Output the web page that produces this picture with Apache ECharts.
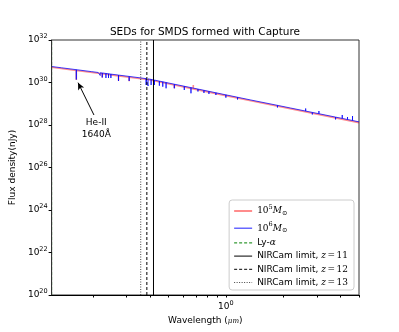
<!DOCTYPE html>
<html>
<head>
<meta charset="utf-8">
<script src="https://cdn.jsdelivr.net/npm/echarts@6/dist/echarts.min.js"></script>
<style>
html, body { margin: 0; padding: 0; background: #fff; }
#chart { width: 399px; height: 332px; }
</style>
</head>
<body>
<div id="chart"></div>
<script>
// continuum nodes + absorption/emission lines (um, nJy)
const hiContWave = [0.1216, 0.1368, 0.1964, 0.395, 1.3519, 5.0];
const hiContFlux = [5.66e30, 4.93e30, 3.26e30, 1.46e30, 1.50e29, 1.40e28];
const hiLineWave = [0.1639, 0.2137, 0.2189, 0.2243, 0.2345, 0.2419, 0.2490, 0.2730, 0.3105,
    0.3812, 0.3905, 0.4049, 0.4213, 0.4474, 0.4662, 0.4852, 0.5362, 0.6047, 0.6556,
    0.7135, 0.7670, 0.8146, 0.8863, 1.0, 1.1514,
    1.8652, 2.1891, 2.6235, 2.8436, 3.0797, 3.7672, 4.0832, 4.3523, 4.6238];
const hiLineCont = [4.01e30, 2.96e30, 2.88e30, 2.80e30, 2.66e30, 2.56e30, 2.48e30, 2.23e30, 1.93e30,
    1.52e30, 1.48e30, 1.40e30, 1.30e30, 1.16e30, 1.08e30, 1.00e30, 8.31e29, 6.65e29, 5.72e29,
    4.90e29, 4.29e29, 3.83e29, 3.28e29, 2.62e29, 2.02e29,
    8.40e28, 6.27e28, 4.52e28, 3.91e28, 3.39e28, 2.35e28, 2.04e28, 1.81e28, 1.63e28];
const hiLineTip = [1.38e30, 2.51e30, 2.13e30, 1.72e30, 1.63e30, 1.63e30, 1.63e30, 1.18e30, 1.18e30,
    7.63e29, 6.84e29, 7.63e29, 7.63e29, 7.07e29, 6.34e29, 5.33e29, 5.33e29, 4.44e29, 3.10e29,
    3.77e29, 3.21e29, 2.88e29, 2.58e29, 1.93e29, 1.58e29,
    6.66e28, 5.08e28, 5.98e28, 3.12e28, 4.56e28, 1.82e28, 2.96e28, 2.38e28, 2.65e28];

const loContWave = [0.1216, 0.395, 1.3519, 5.0];
const loContFlux = [5.2e30, 1.34e30, 1.38e29, 1.29e28];
const loLineWave = [0.1639, 0.2243, 0.2730, 0.3105, 0.5362, 0.6743, 1.0];
const loLineCont = [3.69e30, 2.58e30, 2.05e30, 1.78e30, 7.65e29, 5.0e29, 2.41e29];
const loLineTip = [1.3e30, 1.7e30, 1.2e30, 1.15e30, 5.4e29, 7.6e29, 1.95e29];

const lyaWave = 0.1216;
const nircamWave = [0.4167, 0.3846, 0.3571]; // z = 11, 12, 13
const yTicks = [1e20, 1e22, 1e24, 1e26, 1e28, 1e30, 1e32];
const xMajor = [1];
const xTicks = [0.2, 0.3, 0.4, 0.5, 0.6, 0.7, 0.8, 0.9, 1, 2, 3, 4, 5];

const legendText = {
    'm5': '{n|10}{sup|5}{i|M}{sub|⊙}',
    'm6': '{n|10}{sup|6}{i|M}{sub|⊙}',
    'lya': 'Ly-{i|α}',
    'z11': 'NIRCam limit, {i|z}{eq|=}{n|11}',
    'z12': 'NIRCam limit, {i|z}{eq|=}{n|12}',
    'z13': 'NIRCam limit, {i|z}{eq|=}{n|13}'
};

function buildSed(contWave, contFlux, lineWave, lineCont, lineTip) {
    const groups = [];
    contWave.forEach((w, i) => groups.push([[w, contFlux[i]]]));
    lineWave.forEach((w, i) => groups.push([[w, lineCont[i]], [w, lineTip[i]], [w, lineCont[i]]]));
    groups.sort((a, b) => a[0][0] - b[0][0]);
    return [].concat(...groups);
}

function vline(w) {
    return [[w, yTicks[0]], [w, yTicks[yTicks.length - 1]]];
}

const font = 'DejaVu Sans';
const serif = 'DejaVu Serif';
const richMath = {
    n: { fontFamily: serif, fontSize: 9, color: '#000' },
    eq: { fontFamily: serif, fontSize: 9, color: '#000', padding: [0, 1.5, 0, 1.5] },
    i: { fontFamily: serif, fontStyle: 'italic', fontSize: 9, color: '#000' },
    sup: { fontFamily: serif, fontSize: 6.5, color: '#000', padding: [0, 0, 7, 0] },
    sub: { fontFamily: serif, fontSize: 6.5, color: '#000', padding: [5, 0, 0, 0] }
};

const chart = echarts.init(document.getElementById('chart'));
chart.setOption({
    animation: false,
    title: {
        text: 'SEDs for SMDS formed with Capture',
        left: 200, top: 22, textAlign: 'center',
        textStyle: { fontFamily: font, fontSize: 10.5, fontWeight: 'normal', color: '#000' }
    },
    grid: { left: 50, right: 40, top: 40, bottom: 37, show: true, borderColor: '#333', borderWidth: 1 },
    legend: {
        orient: 'vertical', right: 45, bottom: 42,
        itemWidth: 18, itemHeight: 10, itemGap: 4.2,
        backgroundColor: 'rgba(255,255,255,0.8)', borderColor: '#ccc', borderWidth: 1, borderRadius: 3,
        padding: [4, 6, 3, 4],
        itemStyle: { opacity: 0 },
        formatter: (name) => legendText[name],
        textStyle: {
            fontFamily: font, fontSize: 9, color: '#000',
            rich: richMath
        },
        data: [
            { name: 'm5', lineStyle: { width: 2 } },
            { name: 'm6', lineStyle: { width: 1.2 } },
            { name: 'lya', lineStyle: { width: 1 } },
            { name: 'z11', lineStyle: { width: 1 } },
            { name: 'z12', lineStyle: { width: 1 } },
            { name: 'z13', lineStyle: { width: 1 } }
        ]
    },
    xAxis: {
        type: 'log', logBase: 10, min: 0.1216, max: 5, z: 10,
        name: '{t|Wavelength (}{i|μm}{t|)}', nameLocation: 'middle', nameGap: 20,
        nameTextStyle: {
            rich: {
                t: { fontFamily: font, fontSize: 9, color: '#000' },
                i: { fontFamily: serif, fontStyle: 'italic', fontSize: 7, color: '#000' }
            }
        },
        axisLine: { lineStyle: { color: '#000', width: 1 } },
        axisTick: { customValues: xTicks, length: 2.5, lineStyle: { color: '#000' } },
        axisLabel: {
            customValues: xMajor, margin: 5,
            formatter: (v) => '{b|10}{s|' + Math.round(Math.log10(v)) + '}',
            rich: {
                b: { fontFamily: font, fontSize: 9, color: '#000' },
                s: { fontFamily: font, fontSize: 6.5, color: '#000', padding: [0, 0, 7, 0] }
            }
        },
        splitLine: { show: false },
        minorTick: { show: false }
    },
    yAxis: {
        type: 'log', logBase: 10, min: 1e20, max: 1e32, z: 10,
        name: 'Flux density(nJy)', nameLocation: 'middle', nameGap: 32,
        nameTextStyle: { fontFamily: font, fontSize: 9, color: '#000' },
        axisLine: { lineStyle: { color: '#333', width: 1 } },
        axisTick: { customValues: yTicks, length: 3, lineStyle: { color: '#000' } },
        axisLabel: {
            customValues: yTicks, margin: 4,
            formatter: (v) => '{b|10}{s|' + Math.round(Math.log10(v)) + '}',
            rich: {
                b: { fontFamily: font, fontSize: 9, color: '#000' },
                s: { fontFamily: font, fontSize: 6.5, color: '#000', padding: [0, 0, 7, 0] }
            }
        },
        splitLine: { show: false }
    },
    series: [
        {
            name: 'm5', type: 'line', symbol: 'none', sampling: null,
            lineStyle: { color: 'rgba(255,0,0,0.45)', width: 1.6 },
            itemStyle: { color: 'rgba(255,0,0,0.45)' },
            data: buildSed(loContWave, loContFlux, loLineWave, loLineCont, loLineTip)
        },
        {
            name: 'm6', type: 'line', symbol: 'none',
            lineStyle: { color: 'rgba(0,0,255,0.75)', width: 1 },
            itemStyle: { color: 'rgba(0,0,255,0.75)' },
            data: buildSed(hiContWave, hiContFlux, hiLineWave, hiLineCont, hiLineTip),
            markLine: {
                silent: true, symbol: ['none', 'arrow'], symbolSize: [5, 7],
                label: { show: false },
                lineStyle: { color: '#000', width: 1, type: 'solid' },
                data: [[{ coord: [0.2029, 2.96e28] }, { coord: [0.1674, 9.8e29] }]]
            },
            markPoint: {
                silent: true, symbol: 'circle', symbolSize: 1,
                itemStyle: { color: 'rgba(0,0,0,0)' },
                label: {
                    show: true, position: 'inside', color: '#000',
                    fontFamily: font, fontSize: 9, lineHeight: 12,
                    formatter: 'He-II\n1640Å'
                },
                data: [{ coord: [0.2086, 6.84e27] }]
            }
        },
        {
            name: 'lya', type: 'line', symbol: 'none',
            lineStyle: { color: 'green', width: 1, type: [3, 2] },
            itemStyle: { color: 'green' },
            data: vline(lyaWave)
        },
        {
            name: 'z11', type: 'line', symbol: 'none',
            lineStyle: { color: '#000', width: 1 },
            itemStyle: { color: '#000' },
            data: vline(nircamWave[0])
        },
        {
            name: 'z12', type: 'line', symbol: 'none',
            lineStyle: { color: '#000', width: 1, type: [3, 2] },
            itemStyle: { color: '#000' },
            data: vline(nircamWave[1])
        },
        {
            name: 'z13', type: 'line', symbol: 'none',
            lineStyle: { color: '#444', width: 1, type: [1, 1.5] },
            itemStyle: { color: '#444' },
            data: vline(nircamWave[2])
        }
    ]
});
</script>
</body>
</html>
